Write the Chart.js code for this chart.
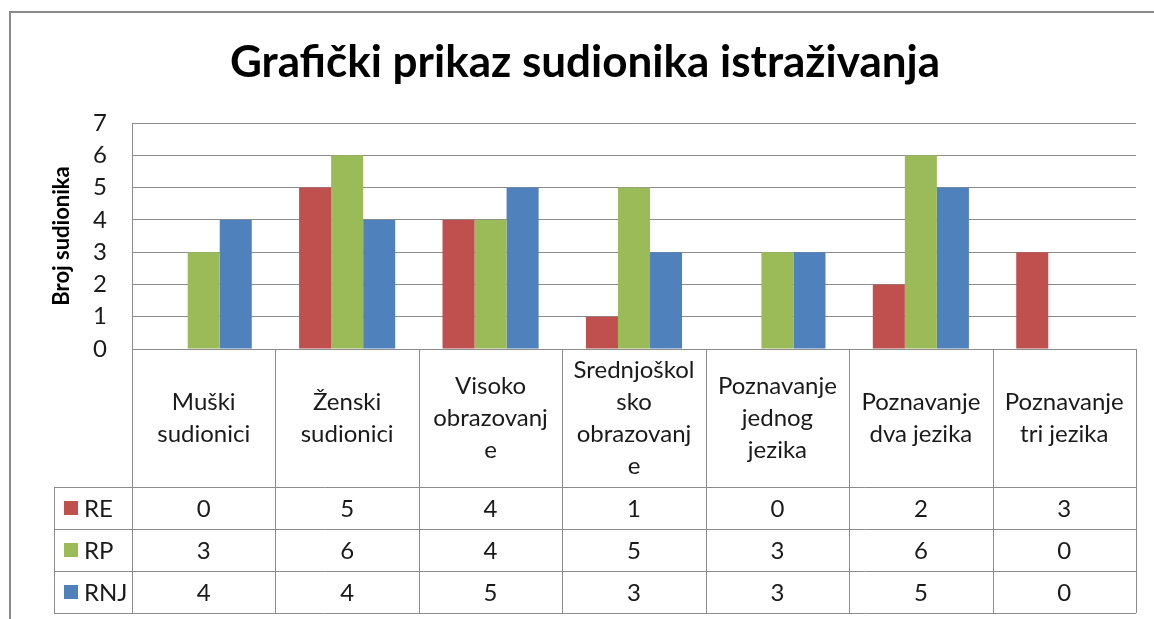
<!DOCTYPE html>
<html>
<head>
<meta charset="utf-8">
<script src="https://cdn.jsdelivr.net/npm/chart.js@4.4.0/dist/chart.umd.min.js"></script>
<style>
  html, body { margin: 0; padding: 0; background: #fff; }
  #wrap { width: 1154px; height: 619px; }
</style>
</head>
<body>
<div id="wrap"><canvas id="chart" width="1154" height="619"></canvas></div>
<script>
const categories = [
  ['Muški', 'sudionici'],
  ['Ženski', 'sudionici'],
  ['Visoko', 'obrazovanj', 'e'],
  ['Srednjoškol', 'sko', 'obrazovanj', 'e'],
  ['Poznavanje', 'jednog', 'jezika'],
  ['Poznavanje', 'dva jezika'],
  ['Poznavanje', 'tri jezika']
];
const seriesNames = ['RE', 'RP', 'RNJ'];
const seriesColors = ['#C0504D', '#9BBB59', '#4F81BD'];
const valuesRE = [0, 5, 4, 1, 0, 2, 3];
const valuesRP = [3, 6, 4, 5, 3, 6, 0];
const valuesRNJ = [4, 4, 5, 3, 3, 5, 0];
const yTicks = [0, 1, 2, 3, 4, 5, 6, 7];

const FONT = 'Lato';
const GRID = '#8c8c8c';

// frame, title, axis title and the data table under the plot
const tablePlugin = {
  id: 'excelTable',
  afterDraw(chart) {
    const ctx = chart.ctx;
    const area = chart.chartArea;
    const n = categories.length;
    const colW = area.width / n;
    const headerBottom = 487;
    const rowH = 42;
    const legendLeft = 54;
    ctx.save();

    // outer frame
    ctx.strokeStyle = '#8a8a8a';
    ctx.lineWidth = 2;
    ctx.strokeRect(10, 12, 1200, 700);

    // title
    ctx.fillStyle = '#000';
    ctx.font = 'bold 44px ' + FONT;
    ctx.textAlign = 'center';
    ctx.textBaseline = 'middle';
    ctx.fillText('Grafički prikaz sudionika istraživanja', 585, 63);

    // y axis title
    ctx.save();
    ctx.translate(62, 236);
    ctx.rotate(-Math.PI / 2);
    ctx.font = 'bold 22px ' + FONT;
    ctx.fillText('Broj sudionika', 0, 0);
    ctx.restore();

    // table lines
    ctx.strokeStyle = GRID;
    ctx.lineWidth = 1;
    const tableBottom = headerBottom + rowH * seriesNames.length;
    ctx.beginPath();
    for (let i = 0; i <= n; i++) {
      const x = Math.round(area.left + i * colW) + 0.5;
      ctx.moveTo(x, area.bottom);
      ctx.lineTo(x, tableBottom);
    }
    ctx.moveTo(legendLeft + 0.5, headerBottom);
    ctx.lineTo(legendLeft + 0.5, tableBottom);
    ctx.moveTo(area.left, area.bottom + 0.5);
    ctx.lineTo(area.right, area.bottom + 0.5);
    for (let r = 0; r <= seriesNames.length; r++) {
      const y = headerBottom + r * rowH + 0.5;
      ctx.moveTo(legendLeft, y);
      ctx.lineTo(area.right, y);
    }
    ctx.stroke();

    // header labels
    ctx.fillStyle = '#1a1a1a';
    ctx.font = '24px ' + FONT;
    const lineH = 32;
    const headMid = (area.bottom + headerBottom) / 2;
    categories.forEach((lines, i) => {
      const cx = chart.scales.x.getPixelForValue(i);
      const y0 = headMid - (lines.length - 1) * lineH / 2;
      lines.forEach((t, k) => ctx.fillText(t, cx, y0 + k * lineH));
    });

    // rows
    chart.data.datasets.forEach((ds, r) => {
      const cy = headerBottom + r * rowH + rowH / 2;
      ctx.fillStyle = ds.backgroundColor;
      ctx.fillRect(legendLeft + 10, cy - 7, 14, 14);
      ctx.fillStyle = '#1a1a1a';
      ctx.textAlign = 'left';
      ctx.fillText(ds.label, legendLeft + 30, cy + 1);
      ctx.textAlign = 'center';
      ds.data.forEach((v, i) => {
        ctx.fillText(String(v), chart.scales.x.getPixelForValue(i), cy + 1);
      });
    });
    ctx.restore();
  }
};

new Chart(document.getElementById('chart'), {
  type: 'bar',
  data: {
    labels: categories,
    datasets: [
      { label: seriesNames[0], data: valuesRE, backgroundColor: seriesColors[0] },
      { label: seriesNames[1], data: valuesRP, backgroundColor: seriesColors[1] },
      { label: seriesNames[2], data: valuesRNJ, backgroundColor: seriesColors[2] }
    ]
  },
  options: {
    responsive: false,
    animation: false,
    devicePixelRatio: 1,
    layout: { padding: { top: 123, bottom: 270, right: 18, left: 0 } },
    datasets: { bar: { categoryPercentage: 0.67, barPercentage: 1.0, borderWidth: 0 } },
    plugins: {
      legend: { display: false },
      title: { display: false },
      tooltip: { enabled: false }
    },
    scales: {
      x: { display: false },
      y: {
        min: 0,
        max: yTicks[yTicks.length - 1],
        afterBuildTicks(scale) { scale.ticks = yTicks.map(v => ({ value: v })); },
        afterFit(scale) { scale.width = 132; },
        grid: { color: GRID, lineWidth: 1, drawTicks: false },
        border: { display: true, color: GRID, width: 1 },
        ticks: { color: '#1a1a1a', font: { family: FONT, size: 24 }, padding: 25 }
      }
    }
  },
  plugins: [tablePlugin]
});
</script>
</body>
</html>
